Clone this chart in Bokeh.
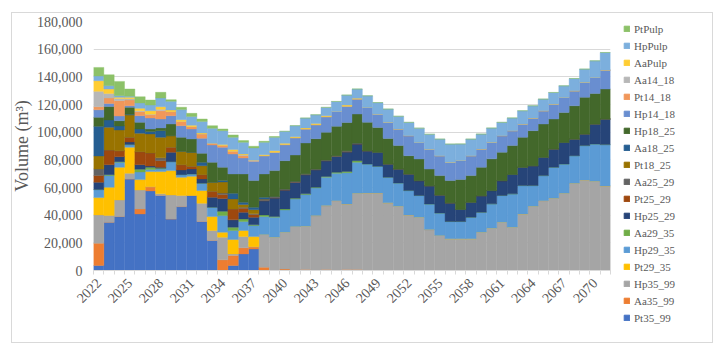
import math
from bokeh.plotting import figure
from bokeh.models import ColumnDataSource, Legend, LegendItem, FixedTicker, NumeralTickFormatter, Range1d, Div
from bokeh.embed import file_html
from bokeh.resources import INLINE

years = list(range(2022, 2072))

Pt35_99 = [3600, 34900, 39000, 66200, 40900, 57500, 54200, 37300, 46200, 54200, 35400, 21700, 0, 3600, 12000, 15600] + [0] * 34
Aa35_99 = [16100, 0, 0, 0, 3600, 3000, 0, 0, 0, 0, 0, 0, 7700, 7200, 4400, 1500,
           2400, 0, 1000, 0, 700, 0, 700, 0, 800, 700] + [0] * 24
Hp35_99 = [20500, 4800, 12000, 4100, 13700, 0, 1200, 17300, 8000, 0, 13200, 7200, 16400, 1200, 8100, 0,
           23600, 24100, 26700, 31800, 31300, 39700, 46200, 50500, 47300, 55100,
           56100, 56100, 48900, 46500, 40200, 38500, 29600, 25300, 22900, 22900, 22900, 27700,
           30600, 34900, 31300, 40900, 46400, 50500, 52200, 55800, 63000, 65500, 64500, 61100]
Pt29_35 = [12500, 20500, 23600, 18800, 7500, 11000, 16100, 17600, 13200, 13900, 9200, 10100, 3600, 10400, 4400, 7400] + [0] * 34
Hp29_35 = [5800, 8400, 3600, 1900, 5500, 1500, 1900, 6500, 1900, 1700, 5300, 6700, 12000, 6500, 6500, 8000,
           13000, 14400, 16100, 19900, 22900, 20000, 20500, 19800, 22600, 22400,
           20900, 19200, 18500, 16800, 17600, 15700, 18500, 16300, 12500, 12500, 15600, 14400,
           17600, 19300, 24100, 20500, 15000, 18100, 22400, 21200, 20000, 24800, 27000, 29900]
Aa29_35 = [0, 600, 500, 0, 2000, 1600, 600, 0, 0, 0, 0, 0, 3100, 2400, 1900, 500,
           1200, 500, 700, 600, 500, 500, 600, 700, 800, 1200] + [0] * 24
Hp25_29 = [5300, 7300, 3600, 1900, 3300, 900, 600, 6700, 3400, 3600, 3100, 7300, 9200, 5300, 4800, 5500,
           10300, 13500, 13700, 11500, 13900, 12700, 11400, 11500, 14300, 12100,
           9600, 10100, 9600, 10100, 12000, 10800, 13200, 13000, 13500, 8700, 10800, 12000,
           9600, 10800, 14000, 13200, 14400, 13200, 13200, 15600, 12000, 8400, 14400, 18500]
Pt25_29 = [4800, 10600, 4300, 3400, 9400, 9500, 4800, 3700, 3800, 1900, 3100, 4300, 3000, 7900, 2900, 1900] + [0] * 34
Aa25_29 = [4800, 0, 0, 0, 0, 0, 2100, 0, 0, 0, 0, 0, 1000, 0, 700, 600,
           1200, 1000, 800, 700, 600, 500, 500, 500, 800, 600] + [0] * 24
Pt18_25 = [9400, 16400, 15000, 16100, 13300, 13700, 14800, 8400, 9700, 10100, 6500, 6500, 8000, 7200, 2000, 3000] + [0] * 34
Aa18_25 = [21400, 5300, 2900, 600, 3100, 1800, 4800, 0, 0, 0, 2400, 0, 1000, 4100, 1600, 1700, 1200] + [0] * 33
Hp18_25 = [6500, 9800, 3800, 5000, 4800, 1800, 2000, 8400, 10100, 9700, 6500, 14400, 9600, 14000, 20500, 19300,
           16900, 18700, 20400, 19000, 22300, 21900, 20000, 21200, 20400, 21000,
           20500, 18000, 18500, 16900, 13200, 15600, 12000, 14000, 16100, 21700, 19300, 20500,
           22900, 20500, 20900, 21700, 25300, 24100, 21700, 21700, 24100, 26500, 22100, 21700]
Hp14_18 = [5500, 2200, 3400, 1100, 4800, 7900, 6400, 6000, 8400, 7200, 10900, 12500, 14500, 14400, 11500, 13900,
           13200, 13200, 11600, 12500, 10100, 10100, 11300, 10800, 11800, 10800,
           10800, 9600, 11600, 12000, 14500, 12000, 14400, 14400, 13200, 13700, 14400, 13200,
           12000, 12000, 10800, 9600, 9100, 9600, 10800, 10800, 10800, 10800, 11600, 13700]
Pt14_18 = [2200, 3900, 11100, 4100, 2900, 2300, 6000, 2900, 3100, 1700, 3100, 1300, 1300, 2000, 1700, 0] + [0] * 34
Aa14_18 = [11100, 3300, 1600, 1000, 700, 500, 1000, 0, 0, 0, 0, 0, 0, 0, 500, 1000] + [0] * 34
AaPulp = [7700, 3200, 800, 1000, 1700, 2500, 1900, 1200, 1200, 1000, 700, 0, 600, 1200, 700, 0,
          700, 1200, 900, 700, 800, 800, 700, 0, 800, 700] + [0] * 24
HpPulp = [3400, 2400, 1200, 700, 3900, 4100, 6300, 6300, 7300, 6400, 8400, 10800, 10100, 8900, 8500, 8700,
          9000, 9700, 8700, 8000, 7100, 6400, 6000, 7200, 7200, 6600,
          8400, 8400, 9600, 9200, 9600, 10300, 10800, 12000, 13200, 12000, 12000, 10800,
          10300, 9600, 9200, 9600, 8900, 8400, 8400, 8400, 8900, 9600, 12000, 12700]
PtPulp = [6200, 7900, 10300, 5300, 4500, 3600, 4100, 1200, 1700, 2200, 1700, 1900, 1200, 1700, 1200, 1200,
          700, 500] + [0] * 32

series_names = ["Pt35_99", "Aa35_99", "Hp35_99", "Pt29_35", "Hp29_35", "Aa29_35", "Hp25_29", "Pt25_29",
                "Aa25_29", "Pt18_25", "Aa18_25", "Hp18_25", "Hp14_18", "Pt14_18", "Aa14_18",
                "AaPulp", "HpPulp", "PtPulp"]
series_values = [Pt35_99, Aa35_99, Hp35_99, Pt29_35, Hp29_35, Aa29_35, Hp25_29, Pt25_29,
                 Aa25_29, Pt18_25, Aa18_25, Hp18_25, Hp14_18, Pt14_18, Aa14_18,
                 AaPulp, HpPulp, PtPulp]
colors = ["#4472C4", "#ED7D31", "#A5A5A5", "#FFC000", "#5B9BD5", "#70AD47",
          "#264478", "#9E480E", "#636363", "#997300", "#255E91", "#43682B",
          "#698ED0", "#F1975A", "#B7B7B7", "#FFCD33", "#7CAFDD", "#8CC168"]
x_tick_years = list(range(2022, 2071, 3))
y_ticks = list(range(0, 180001, 20000))

data = {"year": years}
for n, v in zip(series_names, series_values):
    data[n] = v
src = ColumnDataSource(data)

FONT = "Liberation Serif"
TXT = "#595959"

# chart-area border
frame_box = Div(text="", width=700, height=329,
                styles={"position": "absolute", "left": "6px", "top": "7px",
                        "border": "1px solid #d9d9d9", "box-sizing": "content-box"})

p = figure(width=604, height=330, output_backend="svg", toolbar_location=None,
           x_range=Range1d(2021.5, 2071.5), y_range=Range1d(0, 180000),
           min_border_left=83, min_border_right=2, min_border_top=13, min_border_bottom=68)
p.styles = {"position": "absolute", "left": "8px", "top": "8px"}

renderers = p.vbar_stack(series_names, x="year", width=1.0, source=src,
                         fill_color=colors, line_color=colors, line_width=0.4)

p.outline_line_color = None
p.background_fill_alpha = 0
p.border_fill_alpha = 0
p.xgrid.grid_line_color = None
p.ygrid.grid_line_color = "#d9d9d9"
p.ygrid.ticker = FixedTicker(ticks=y_ticks)

xa = p.xaxis[0]
xa.ticker = FixedTicker(ticks=x_tick_years, minor_ticks=[y + 0.5 for y in range(2021, 2072)])
xa.major_label_orientation = math.pi / 4
xa.major_tick_line_color = None
xa.major_tick_out = 0
xa.major_tick_in = 0
xa.minor_tick_line_color = "#d9d9d9"
xa.minor_tick_out = 4
xa.minor_tick_in = 0
xa.axis_line_color = "#d9d9d9"
xa.major_label_text_font = FONT
xa.major_label_text_font_size = "14px"
xa.major_label_text_color = TXT
xa.major_label_standoff = 6

ya = p.yaxis[0]
ya.ticker = FixedTicker(ticks=y_ticks)
ya.formatter = NumeralTickFormatter(format="0,0")
ya.axis_line_color = None
ya.major_tick_line_color = None
ya.major_tick_out = 0
ya.major_tick_in = 0
ya.minor_tick_line_color = None
ya.major_label_text_font = FONT
ya.major_label_text_font_size = "14px"
ya.major_label_text_color = TXT
ya.major_label_standoff = 11
ya.axis_label = "Volume (m³)"
ya.axis_label_text_font = FONT
ya.axis_label_text_font_size = "18px"
ya.axis_label_text_font_style = "normal"
ya.axis_label_text_color = TXT
ya.axis_label_standoff = 2

# legend panel (separate figure so the legend can be taller than the plot area)
leg = figure(width=96, height=330, output_backend="svg", toolbar_location=None,
             x_range=Range1d(0, 1), y_range=Range1d(0, 1),
             min_border_left=11, min_border_right=0, min_border_top=13, min_border_bottom=0)
leg.styles = {"position": "absolute", "left": "612px", "top": "8px"}
leg.axis.visible = False
leg.grid.visible = False
leg.outline_line_color = None
leg.background_fill_alpha = 0
leg.border_fill_alpha = 0
hidden = ColumnDataSource(data={"x": [5.0], "top": [5.0]})
items = []
for n, c in reversed(list(zip(series_names, colors))):
    r = leg.vbar(x="x", top="top", bottom=4.0, width=0.5, source=hidden, fill_color=c, line_color=c)
    items.append(LegendItem(label=n, renderers=[r]))
legend = Legend(items=items, location="top_left", orientation="vertical")
legend.label_text_font = FONT
legend.label_text_font_size = "11px"
legend.label_text_color = TXT
legend.glyph_width = 7
legend.glyph_height = 7
legend.label_height = 15
legend.spacing = 2
legend.padding = 0
legend.margin = 0
legend.label_standoff = 4
legend.border_line_color = None
legend.background_fill_alpha = 0
leg.add_layout(legend)

open("out.html", "w").write(file_html([frame_box, p, leg], INLINE))
